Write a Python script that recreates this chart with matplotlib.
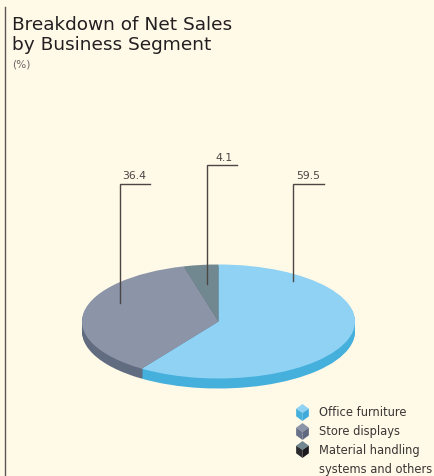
import matplotlib
matplotlib.use('Agg')
import matplotlib.pyplot as plt
from matplotlib.path import Path

# Data
segments = ['Office furniture', 'Store displays', 'Material handling', 'systems and others']
shares = [59.5, 36.4, 4.1]
share_labels = ['59.5', '36.4', '4.1']
top_colors = ['#8FD2F4', '#8C94A8', '#728891']
side_colors = ['#45B0DC', '#626C80', '#56666E']
legend_left = ['#45B0DC', '#68708A', '#2A2A2E']
legend_right = ['#3FA9DC', '#5F6880', '#1A1A1E']

BG = '#FFF9E8'
W, H = 434, 477
plt.rcParams['font.family'] = ['DejaVu Sans']

fig = plt.figure(figsize=(W / 100, H / 100), dpi=100, facecolor=BG)

# Overlay in pixel coordinates, for the text and leader lines
ax = fig.add_axes([0, 0, 1, 1], zorder=2)
ax.set_xlim(0, W)
ax.set_ylim(H, 0)
ax.axis('off')

# Pie is squashed by using non equal axes scales
cx, cy, rx, ry, depth = 218.5, 322.5, 136.5, 57, 10
top_px, bottom_px = cy - ry, cy + ry + depth
pie_ax = fig.add_axes([(cx - rx) / W, (H - bottom_px) / H, 2 * rx / W, (bottom_px - top_px) / H], zorder=1)
for d in range(depth, 0, -1):
    pie_ax.pie(shares, colors=side_colors, startangle=90, counterclock=False,
               center=(0, -d / ry), radius=1)
pie_ax.pie(shares, colors=top_colors, startangle=90, counterclock=False, radius=1)
pie_ax.set_aspect('auto')
pie_ax.set_xlim(-1, 1)
pie_ax.set_ylim(-1 - depth / ry, 1)

# Leader lines
leaders = [
    (293, 324, 184.5, 282, 308.5, 0),
    (120, 150, 184.5, 304, 134.5, 1),
    (207, 237, 166, 285, 224.5, 2),
]
for x0, x1, y0, y1, tx, i in leaders:
    ax.plot([x1, x0, x0], [y0, y0, y1], color='#4A4644', lw=1.0, solid_joinstyle='miter')
    ax.text(tx, y0 - 3, share_labels[i], fontsize=7.8, color='#4A4644', ha='center', va='bottom')

# Rule on the left
ax.plot([4.5, 4.5], [8, H], color='#5A5654', lw=1.0)

# Title
ax.text(12.5, 24.5, 'Breakdown of Net Sales', fontsize=13.3, color='#231F20', va='center')
ax.text(12.5, 44.5, 'by Business Segment', fontsize=13.3, color='#231F20', va='center')
ax.text(12.5, 64.5, '(%)', fontsize=7.6, color='#6A6664', va='center')

# Legend: small cubes standing on a corner
top_face = Path([(0, 1), (.75, .45), (0, -.05), (-.75, .45), (0, 1)])
left_face = Path([(-.75, .45), (0, -.05), (0, -1), (-.75, -.45), (-.75, .45)])
right_face = Path([(.75, .45), (0, -.05), (0, -1), (.75, -.45), (.75, .45)])
legend_y = [412.5, 431.5, 450]
for i, y in enumerate(legend_y):
    ax.plot([301.5], [y], marker=top_face, ms=12.2, color=top_colors[i], mew=0, ls='none')
    ax.plot([301.5], [y], marker=left_face, ms=12.2, color=legend_left[i], mew=0, ls='none')
    ax.plot([301.5], [y], marker=right_face, ms=12.2, color=legend_right[i], mew=0, ls='none')

text_y = [413, 432, 451, 470]
for name, y in zip(segments, text_y):
    ax.text(319, y, name, fontsize=8.3, color='#3A3634', va='center')

fig.savefig('out.png', dpi=100, facecolor=BG)
